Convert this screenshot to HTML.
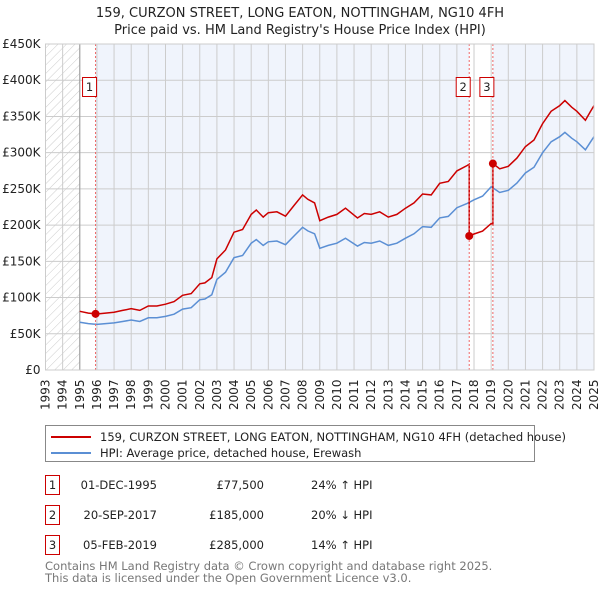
<!DOCTYPE html>
<html><head><meta charset="utf-8"><style>
body{margin:0;background:#fff;width:600px;height:590px;overflow:hidden;font-family:"DejaVu Sans","Liberation Sans",sans-serif;}
</style></head><body>
<svg id="chart" width="600" height="590" xmlns="http://www.w3.org/2000/svg" font-family="DejaVu Sans, Liberation Sans, sans-serif">
<defs><pattern id="hatch" patternUnits="userSpaceOnUse" width="6" height="6" patternTransform="rotate(45)"><line x1="0" y1="0" x2="0" y2="6" stroke="#ccc" stroke-width="1"/></pattern></defs>
<text x="300" y="17" text-anchor="middle" font-size="13" fill="#222">159, CURZON STREET, LONG EATON, NOTTINGHAM, NG10 4FH</text>
<text x="300" y="34" text-anchor="middle" font-size="13" fill="#222">Price paid vs. HM Land Registry's House Price Index (HPI)</text>
<g id="plot"></g>
<g>
<rect x="45.5" y="425.5" width="489" height="36" fill="#fff" stroke="#888"/>
<line x1="51" y1="437" x2="91" y2="437" stroke="#cc0000" stroke-width="2"/>
<text x="100" y="441" font-size="11.5" fill="#222">159, CURZON STREET, LONG EATON, NOTTINGHAM, NG10 4FH (detached house)</text>
<line x1="51" y1="453" x2="91" y2="453" stroke="#5b8fd4" stroke-width="2"/>
<text x="100" y="457" font-size="11.5" fill="#222">HPI: Average price, detached house, Erewash</text>
</g>
<g font-size="11.5" fill="#222">
<rect x="45.5" y="475.5" width="14" height="19" fill="#fff" stroke="#cc0000"/><text x="52.5" y="489" text-anchor="middle">1</text>
<text x="157" y="489" text-anchor="end">01-DEC-1995</text><text x="264" y="489" text-anchor="end">£77,500</text><text x="311" y="489">24% ↑ HPI</text>
<rect x="45.5" y="505.5" width="14" height="19" fill="#fff" stroke="#cc0000"/><text x="52.5" y="519" text-anchor="middle">2</text>
<text x="157" y="519" text-anchor="end">20-SEP-2017</text><text x="264" y="519" text-anchor="end">£185,000</text><text x="311" y="519">20% ↓ HPI</text>
<rect x="45.5" y="535.5" width="14" height="19" fill="#fff" stroke="#cc0000"/><text x="52.5" y="549" text-anchor="middle">3</text>
<text x="157" y="549" text-anchor="end">05-FEB-2019</text><text x="264" y="549" text-anchor="end">£285,000</text><text x="311" y="549">14% ↑ HPI</text>
</g>
<text x="45" y="570" font-size="11.5" fill="#777">Contains HM Land Registry data © Crown copyright and database right 2025.</text>
<text x="45" y="582" font-size="11.5" fill="#777">This data is licensed under the Open Government Licence v3.0.</text>
</svg>
<script>
const hpiYears=[1995,1995.5,1996,1996.5,1997,1997.5,1998,1998.5,1999,1999.5,2000,2000.5,2001,2001.5,2002,2002.3,2002.7,2003,2003.5,2004,2004.5,2005,2005.3,2005.7,2006,2006.5,2007,2007.5,2008,2008.3,2008.7,2009,2009.5,2010,2010.5,2011.2,2011.6,2012,2012.5,2013,2013.5,2014,2014.5,2015,2015.5,2016,2016.5,2017,2017.6,2018,2018.5,2019,2019.5,2020,2020.5,2021,2021.5,2022,2022.5,2023,2023.3,2023.7,2024,2024.5,2024.8,2025];
const hpiValues=[66,64,63,64,65,67,69,67,72,72,74,77,84,86,97,98,104,125,135,155,158,175,180,172,177,178,173,185,197,192,188,168,172,175,182,171,176,175,178,172,175,182,188,198,197,210,212,224,230,235,240,253,245,248,258,272,280,300,315,322,328,320,315,304,315,322];
const saleDates=[1995.92,2017.72,2019.1];
const salePrices=[77500,185000,285000];
const saleLabels=["1","2","3"];
const yTicks=[0,50000,100000,150000,200000,250000,300000,350000,400000,450000];
const yTickLabels=["£0","£50K","£100K","£150K","£200K","£250K","£300K","£350K","£400K","£450K"];
const xYears=[];for(let y=1993;y<=2025;y++)xYears.push(y);

const NS="http://www.w3.org/2000/svg";
const L=45.5,R=594,T=44,B=370,x0=1993,x1=2025,yMax=450000;
const xs=v=>L+(v-x0)/(x1-x0)*(R-L);
const ys=v=>B-v/yMax*(B-T);
const g=document.getElementById('plot');
function mk(tag,attrs,parent){const e=document.createElementNS(NS,tag);for(const k in attrs)e.setAttribute(k,attrs[k]);(parent||g).appendChild(e);return e;}
function hpiAt(t){if(t<=hpiYears[0])return hpiValues[0]*1000;for(let i=1;i<hpiYears.length;i++){if(t<=hpiYears[i]){const f=(t-hpiYears[i-1])/(hpiYears[i]-hpiYears[i-1]);return (hpiValues[i-1]+f*(hpiValues[i]-hpiValues[i-1]))*1000;}}return hpiValues[hpiValues.length-1]*1000;}

// backgrounds
let bg=mk('rect',{x:xs(1995),y:T,width:xs(saleDates[1])-xs(1995),height:B-T,fill:'#f0f4fc'});


bg=mk('rect',{x:xs(saleDates[2]),y:T,width:R-xs(saleDates[2]),height:B-T,fill:'#f0f4fc'});


let wh=mk('rect',{x:xs(1995),y:T,width:xs(saleDates[0])-xs(1995),height:B-T,fill:'#fff'});


let h=mk('rect',{x:L,y:T,width:xs(1995)-L,height:B-T,fill:'url(#hatch)'});


// grid
xYears.forEach(y=>{const l=mk('line',{x1:xs(y),x2:xs(y),y1:T,y2:B,stroke:'#ccc','stroke-width':1});


const t=mk('text',{x:0,y:0,'font-size':12,fill:'#222',transform:`translate(${xs(y)+4},${B+40}) rotate(-90)`});t.textContent=y;

});
yTicks.forEach((v,i)=>{const l=mk('line',{x1:L,x2:R,y1:ys(v),y2:ys(v),stroke:'#ccc','stroke-width':1});


const t=mk('text',{x:L-5,y:ys(v)+4,'font-size':12,fill:'#222','text-anchor':'end'});t.textContent=yTickLabels[i];

});
const ax=mk('line',{x1:xs(1995),x2:xs(1995),y1:T,y2:B,stroke:'#999'});


// hpi line
let d='';hpiYears.forEach((t,i)=>{d+=(i?'L':'M')+xs(t).toFixed(1)+','+ys(hpiValues[i]*1000).toFixed(1);});
const hl=mk('path',{d:d,fill:'none',stroke:'#5b8fd4','stroke-width':1.5});


// price line
const pts=[];
for(let s=0;s<saleDates.length;s++){const ratio=salePrices[s]/hpiAt(saleDates[s]);const start=s===0?1995:saleDates[s];const end=s+1<saleDates.length?saleDates[s+1]:2025;
 const ts=[start].concat(hpiYears.filter(t=>t>start&&t<end),[end]);ts.forEach(t=>pts.push([t,hpiAt(t)*ratio]));}
let pd='';pts.forEach((p,i)=>{pd+=(i?'L':'M')+xs(p[0]).toFixed(1)+','+ys(p[1]).toFixed(1);});
const pl=mk('path',{d:pd,fill:'none',stroke:'#cc0000','stroke-width':1.5});


// sale markers
saleDates.forEach((t,i)=>{const vl=mk('line',{x1:xs(t),x2:xs(t),y1:T,y2:B,stroke:'#e66','stroke-dasharray':'2,2'});


const c=mk('circle',{cx:xs(t),cy:ys(salePrices[i]),r:4,fill:'#cc0000'});


const bx=mk('rect',{x:xs(t)-9-4,y:77.5,width:14,height:19,fill:'#fff',stroke:'#cc0000'});


const tx=mk('text',{x:xs(t)-6,y:91,'font-size':11.5,fill:'#222','text-anchor':'middle'});tx.textContent=saleLabels[i];

});
const fr=mk('rect',{x:L,y:T,width:R-L,height:B-T,fill:'none',stroke:'#ccc'});


</script>
</body></html>
